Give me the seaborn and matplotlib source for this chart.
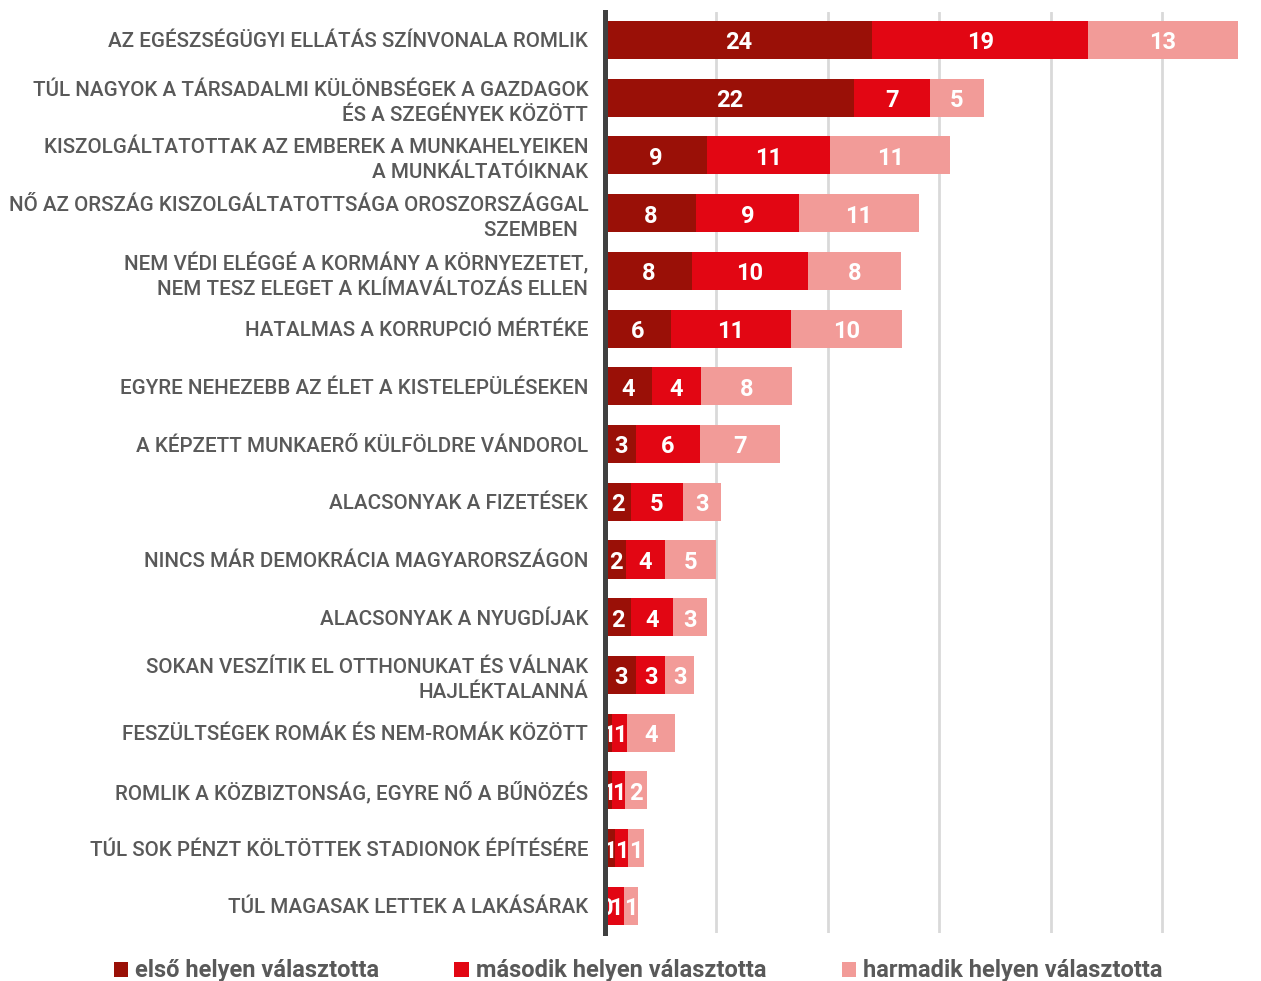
import numpy as np
import pandas as pd
import matplotlib
matplotlib.use('Agg')
import matplotlib.pyplot as plt
from matplotlib.patches import Patch
import seaborn as sns

# Categories and values (first / second / third place picks)
categories = [
    "AZ EGÉSZSÉGÜGYI ELLÁTÁS SZÍNVONALA ROMLIK",
    "TÚL NAGYOK A TÁRSADALMI KÜLÖNBSÉGEK A GAZDAGOK\nÉS A SZEGÉNYEK KÖZÖTT",
    "KISZOLGÁLTATOTTAK AZ EMBEREK A MUNKAHELYEIKEN\nA MUNKÁLTATÓIKNAK",
    "NŐ AZ ORSZÁG KISZOLGÁLTATOTTSÁGA OROSZORSZÁGGAL\nSZEMBEN  ",
    "NEM VÉDI ELÉGGÉ A KORMÁNY A KÖRNYEZETET,\nNEM TESZ ELEGET A KLÍMAVÁLTOZÁS ELLEN",
    "HATALMAS A KORRUPCIÓ MÉRTÉKE",
    "EGYRE NEHEZEBB AZ ÉLET A KISTELEPÜLÉSEKEN",
    "A KÉPZETT MUNKAERŐ KÜLFÖLDRE VÁNDOROL",
    "ALACSONYAK A FIZETÉSEK",
    "NINCS MÁR DEMOKRÁCIA MAGYARORSZÁGON",
    "ALACSONYAK A NYUGDÍJAK",
    "SOKAN VESZÍTIK EL OTTHONUKAT ÉS VÁLNAK\nHAJLÉKTALANNÁ",
    "FESZÜLTSÉGEK ROMÁK ÉS NEM-ROMÁK KÖZÖTT",
    "ROMLIK A KÖZBIZTONSÁG, EGYRE NŐ A BŰNÖZÉS",
    "TÚL SOK PÉNZT KÖLTÖTTEK STADIONOK ÉPÍTÉSÉRE",
    "TÚL MAGASAK LETTEK A LAKÁSÁRAK",
]
first = [24.0, 22.4, 9.2, 8.2, 7.8, 5.9, 4.2, 2.8, 2.3, 1.9, 2.3, 2.8, 0.6, 0.6, 0.9, 0.3]
second = [19.4, 6.8, 11.0, 9.2, 10.4, 10.8, 4.4, 5.7, 4.7, 3.5, 3.8, 2.6, 1.4, 1.2, 1.2, 1.4]
third = [13.4, 4.8, 10.8, 10.8, 8.4, 10.0, 8.2, 7.2, 3.4, 4.6, 3.1, 2.6, 4.3, 2.0, 1.4, 1.3]

series_names = ["első helyen választotta", "második helyen választotta", "harmadik helyen választotta"]
colors = ["#9a1007", "#e20613", "#f29b98"]

df = pd.DataFrame({"cat": categories, "first": first, "second": second, "third": third})
df["s12"] = df["first"] + df["second"]
df["total"] = df["s12"] + df["third"]

sns.set_style("white")
plt.rcParams['font.family'] = ['Roboto', 'DejaVu Sans']

fig = plt.figure(figsize=(12.61, 9.81), dpi=100)
ax = fig.add_axes([605 / 1261, 48 / 981, 646 / 1261, 921 / 981])

# stacked bars: draw totals first, then overlay the partial sums
for col, c in zip(["total", "s12", "first"], colors[::-1]):
    sns.barplot(data=df, x=col, y="cat", color=c, saturation=1, width=0.66,
                orient="h", linewidth=0, ax=ax, zorder=3)

# value labels inside each segment
for i, row in df.iterrows():
    left = 0
    for col in ["first", "second", "third"]:
        v = row[col]
        ax.text(left + v / 2, i + 0.05, f"{round(v)}", ha="center", va="center",
                color="white", fontsize=17, fontweight="bold", zorder=5)
        left += v

ax.set_xlim(0, 58)
ax.set_ylim(15.47, -0.485)
ax.set_xticks([10, 20, 30, 40, 50])
ax.set_xticklabels([])
ax.grid(axis="x", color="#d9d9d9", linewidth=2)
ax.set_axisbelow(True)
ax.set_xlabel("")
ax.set_ylabel("")
ax.tick_params(axis="both", length=0)
ax.tick_params(axis="y", pad=12, labelsize=14.9, labelcolor="#595959")
for lab in ax.get_yticklabels():
    lab.set_fontweight("medium")
    lab.set_linespacing(1.4)

for s in ["top", "right", "bottom"]:
    ax.spines[s].set_visible(False)
ax.spines["left"].set_color("#404040")
ax.spines["left"].set_linewidth(3.6)
ax.spines["left"].set_zorder(6)

handles = [Patch(facecolor=c, edgecolor="none") for c in colors]
fig.legend(handles, series_names, loc="center", bbox_to_anchor=(638 / 1261, 1 - 971 / 981),
           ncol=3, frameon=False, handlelength=0.6, handleheight=0.6, handletextpad=0.3,
           columnspacing=3.2, prop={"size": 17, "weight": "bold"}, labelcolor="#595959")

fig.savefig("out.png", dpi=100)
